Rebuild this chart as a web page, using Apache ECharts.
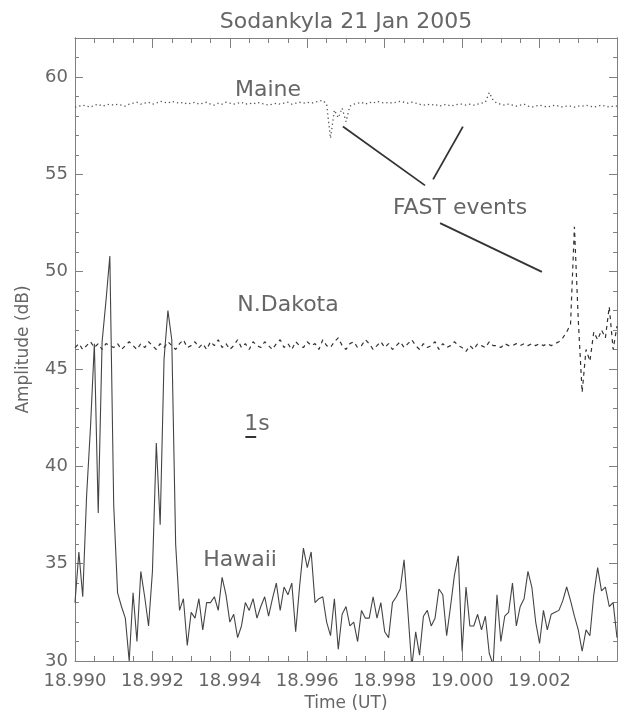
<!DOCTYPE html>
<html>
<head>
<meta charset="utf-8">
<title>Sodankyla 21 Jan 2005</title>
<script src="https://cdn.jsdelivr.net/npm/echarts@6/dist/echarts.min.js"></script>
<style>
html, body { margin: 0; padding: 0; background: #fff; }
#chart { width: 618px; height: 717px; }
</style>
</head>
<body>
<div id="chart"></div>
<script>
// one reading every 0.0001 h (0.36 s), starting at 18.990 UT
const timeStart = 18.990
const timeStep = 0.0001

const maineAmp = [
  58.45, 58.5, 58.55, 58.5, 58.45, 58.55, 58.6, 58.5, 58.55, 58.6, 58.55,
  58.6, 58.55, 58.5, 58.6, 58.65, 58.7, 58.6, 58.65, 58.7, 58.6,
  58.65, 58.75, 58.7, 58.65, 58.75, 58.7, 58.65, 58.7, 58.6, 58.65,
  58.7, 58.6, 58.65, 58.7, 58.6, 58.55, 58.65, 58.6, 58.7, 58.65,
  58.6, 58.65, 58.7, 58.6, 58.65, 58.6, 58.7, 58.65, 58.6, 58.55,
  58.6, 58.65, 58.6, 58.65, 58.7, 58.6, 58.65, 58.7, 58.65, 58.7,
  58.65, 58.7, 58.75, 58.8, 58.6, 56.85, 58.3, 57.9, 58.4, 57.7,
  58.5, 58.6, 58.65, 58.7, 58.6, 58.7, 58.65, 58.75, 58.7, 58.65,
  58.7, 58.65, 58.7, 58.75, 58.7, 58.65, 58.7, 58.65, 58.6, 58.55,
  58.6, 58.55, 58.6, 58.5, 58.55, 58.6, 58.5, 58.55, 58.6, 58.6,
  58.55, 58.6, 58.55, 58.6, 58.65, 58.7, 59.2, 58.8, 58.65, 58.6,
  58.55, 58.6, 58.55, 58.5, 58.55, 58.6, 58.5, 58.45, 58.5, 58.55,
  58.5, 58.45, 58.5, 58.55, 58.5, 58.45, 58.5, 58.5, 58.45, 58.5,
  58.5, 58.55, 58.5, 58.45, 58.5, 58.55, 58.5, 58.45, 58.5, 58.5
]

const dakotaAmp = [
  46.1, 46.3, 46.0, 46.2, 46.4, 46.1, 46.3, 46.0, 46.3, 46.2, 46.1,
  46.3, 46.0, 46.2, 46.4, 46.2, 46.0, 46.3, 46.1, 46.4, 46.2,
  46.0, 46.3, 46.1, 46.4, 46.2, 46.0, 46.3, 46.5, 46.1, 46.2,
  46.4, 46.1, 46.3, 46.0, 46.4, 46.2, 46.5, 46.1, 46.3, 46.0,
  46.2, 46.5, 46.1, 46.3, 46.0, 46.4, 46.2, 46.1, 46.4, 46.2,
  46.0, 46.3, 46.5, 46.1, 46.3, 46.0, 46.4, 46.2, 46.1, 46.4,
  46.2, 46.3, 46.0, 46.5, 46.2, 46.1, 46.4, 46.6, 46.2, 46.0,
  46.3, 46.4, 46.1, 46.2, 46.5, 46.3, 46.0, 46.2, 46.4, 46.1,
  46.3, 46.0, 46.2, 46.4, 46.1, 46.3, 46.5, 46.2, 46.0, 46.3,
  46.1, 46.2, 46.4, 46.0, 46.3, 46.1, 46.2, 46.4, 46.2, 46.1,
  45.9, 46.2, 46.0, 46.3, 46.2, 46.1, 46.4, 46.2, 46.2, 46.1,
  46.3, 46.2, 46.2, 46.3, 46.2, 46.3, 46.2, 46.3, 46.2, 46.3,
  46.2, 46.3, 46.2, 46.3, 46.4, 46.6, 46.9, 47.3, 52.3, 47.5,
  43.8, 46.0, 45.4, 46.9, 46.5, 47.0, 46.6, 48.2, 46.0, 47.2
]

const hawaiiAmp = [
  33.0, 35.6, 33.3, 38.5, 42.0, 46.3, 37.6, 46.4, 48.5, 50.8, 38.0,
  33.5, 32.8, 32.2, 30.0, 33.5, 31.0, 34.6, 33.3, 31.8, 34.6,
  41.2, 37.0, 45.5, 48.0, 46.5, 36.0, 32.6, 33.2, 30.8, 32.5,
  32.2, 33.2, 31.6, 33.0, 33.0, 33.3, 32.6, 34.3, 33.4, 32.0,
  32.4, 31.2, 31.8, 33.0, 32.6, 33.2, 32.2, 32.8, 33.3, 32.3,
  33.2, 34.0, 32.6, 33.8, 33.4, 34.0, 31.5, 33.8, 35.8, 34.8,
  35.6, 33.0, 33.2, 33.3, 32.0, 31.3, 33.2, 30.6, 32.4, 32.8,
  31.8, 32.0, 31.0, 32.6, 32.2, 32.2, 33.3, 32.2, 33.0, 31.5,
  31.2, 33.0, 33.3, 33.7, 35.2, 32.5, 29.7, 31.5, 30.3, 32.3,
  32.6, 31.8, 32.2, 33.7, 33.4, 31.3, 32.8, 34.4, 35.4, 30.5,
  33.8, 31.8, 31.8, 32.4, 31.6, 32.3, 30.4, 29.8, 33.4, 31.0,
  32.3, 32.5, 34.0, 31.8, 32.8, 33.2, 34.6, 33.8, 32.0, 30.9,
  32.6, 31.6, 32.4, 32.5, 32.6, 33.1, 33.8, 33.1, 32.3, 31.6,
  30.5, 31.6, 31.3, 33.4, 34.8, 33.6, 33.8, 32.8, 33.0, 31.2
]

// "FAST events" pointers and the 1 s scale bar, as [time, dB] ends
const fastPointers = [
  [[18.99692, 57.45], [18.99904, 54.43]],
  [[19.00002, 57.45], [18.99925, 54.74]],
  [[18.99943, 52.49], [19.00206, 49.99]]
]
const scaleBar = [[18.99440, 41.5], [18.99468, 41.5]]

const fontFamily = 'DejaVu Sans'
const textColor = '#666'
const axisColor = '#808080'
const inkColor = '#333'

function toSeries(amp) {
  return amp.map((v, i) => [+(timeStart + i * timeStep).toFixed(5), v])
}

function xAx(pos, labels) {
  return {
    type: 'value',
    position: pos,
    min: 18.990,
    max: 19.004,
    interval: 0.002,
    axisLine: { show: true, onZero: false, lineStyle: { color: axisColor, width: 1 } },
    axisTick: { show: true, inside: true, length: 10, lineStyle: { color: axisColor } },
    minorTick: { show: true, splitNumber: 4, length: 5, lineStyle: { color: axisColor } },
    axisLabel: {
      show: labels,
      showMaxLabel: false,
      margin: 11,
      color: textColor,
      fontFamily,
      fontSize: 18,
      formatter: v => v.toFixed(3)
    },
    splitLine: { show: false },
    name: labels ? 'Time (UT)' : '',
    nameLocation: 'middle',
    nameGap: 34,
    nameTextStyle: { color: textColor, fontFamily, fontSize: 17 }
  }
}

function yAx(pos, interval, len, labels) {
  return {
    type: 'value',
    position: pos,
    min: 30,
    max: 62,
    interval,
    axisLine: { show: true, onZero: false, lineStyle: { color: axisColor, width: 1 } },
    axisTick: { show: true, inside: true, length: len, lineStyle: { color: axisColor } },
    axisLabel: {
      show: labels,
      showMaxLabel: false,
      margin: 7,
      color: textColor,
      fontFamily,
      fontSize: 18
    },
    splitLine: { show: false },
    name: labels ? 'Amplitude (dB)' : '',
    nameLocation: 'middle',
    nameGap: 43,
    nameTextStyle: { color: textColor, fontFamily, fontSize: 17 }
  }
}

function label(text, x, y) {
  return {
    type: 'text',
    x, y,
    style: {
      text,
      fill: textColor,
      font: '22px "DejaVu Sans"',
      align: 'center',
      verticalAlign: 'middle'
    }
  }
}

const chart = echarts.init(document.getElementById('chart'))

chart.setOption({
  animation: false,
  backgroundColor: '#fff',
  grid: { left: 75, right: 1, top: 38, bottom: 53 },
  xAxis: [xAx('bottom', true), xAx('top', false)],
  yAxis: [
    yAx('left', 5, 8, true),
    yAx('left', 1, 4, false),
    yAx('right', 5, 8, false),
    yAx('right', 1, 4, false)
  ],
  graphic: [
    label('Sodankyla 21 Jan 2005', 346, 22),
    label('Maine', 268, 90),
    label('N.Dakota', 288, 305),
    label('Hawaii', 240, 560),
    label('FAST events', 460, 208),
    label('1s', 257, 424)
  ],
  series: [
    {
      name: 'Maine',
      type: 'line',
      data: toSeries(maineAmp),
      showSymbol: false,
      symbol: 'none',
      lineStyle: { color: '#555', width: 1.3, type: [1.3, 3] },
      markLine: {
        silent: true,
        symbol: ['none', 'none'],
        label: { show: false },
        lineStyle: { color: inkColor, width: 1.8, type: 'solid' },
        data: fastPointers.map(p => [{ coord: p[0] }, { coord: p[1] }])
      }
    },
    {
      name: 'N.Dakota',
      type: 'line',
      data: toSeries(dakotaAmp),
      showSymbol: false,
      symbol: 'none',
      lineStyle: { color: inkColor, width: 1.2, type: [4, 4] }
    },
    {
      name: 'Hawaii',
      type: 'line',
      data: toSeries(hawaiiAmp),
      showSymbol: false,
      symbol: 'none',
      lineStyle: { color: '#444', width: 1.1 },
      markLine: {
        silent: true,
        symbol: ['none', 'none'],
        label: { show: false },
        lineStyle: { color: inkColor, width: 2, type: 'solid' },
        data: [[{ coord: scaleBar[0] }, { coord: scaleBar[1] }]]
      }
    }
  ]
})
</script>
</body>
</html>
